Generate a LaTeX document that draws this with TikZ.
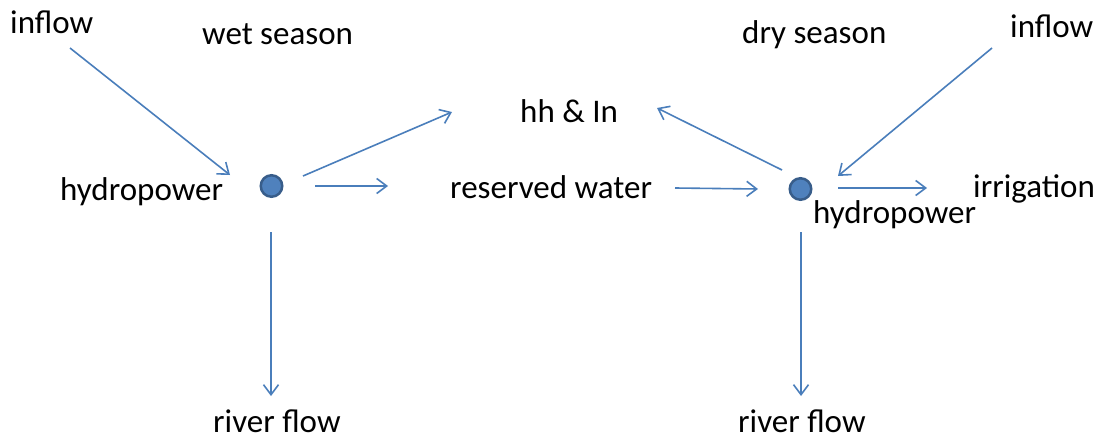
\documentclass[tikz,border=0pt]{standalone}
\usepackage{fontspec}
\setmainfont{Carlito}
\usetikzlibrary{arrows.meta}
\definecolor{arrowblue}{HTML}{4A7EBB}
\definecolor{dotfill}{HTML}{4F81BD}
\definecolor{dotdraw}{HTML}{385D8A}
\begin{document}
\begin{tikzpicture}[x=1pt,y=-1pt,
  lbl/.style={anchor=base west, inner sep=0pt, font=\fontsize{33}{40}\selectfont},
  arr/.style={draw=arrowblue, line width=1.6pt, -{Straight Barb[length=10pt,width=15pt,line width=1.6pt]}},
  dotnode/.style={circle, fill=dotfill, draw=dotdraw, line width=2.5pt, minimum size=21.5pt, inner sep=0pt}]
\useasboundingbox (0,0) rectangle (1101,439);
% labels
\node[lbl] (inflowL) at (10,33) {inflow};
\node[lbl] (wet) at (202,45) {wet season};
\node[lbl] (dry) at (742,43) {dry season};
\node[lbl] (inflowR) at (1010,37) {inflow};
\node[lbl] (hh) at (520,122) {hh \& In};
\node[lbl] (res) at (450,198) {reserved water};
\node[lbl] (hpL) at (60,200) {hydropower};
\node[lbl] (hpR) at (813,223) {hydropower};
\node[lbl] (irr) at (973,197) {irrigation};
\node[lbl] (rfL) at (213,432) {river flow};
\node[lbl] (rfR) at (738,432) {river flow};
% dots
\node[dotnode] (dotL) at (271.5,186) {};
\node[dotnode] (dotR) at (800.5,189) {};
% connector ends
\coordinate (a1s) at (70,48);   \coordinate (a1e) at (230,175);
\coordinate (a2s) at (303,176); \coordinate (a2e) at (452,112);
\coordinate (a3s) at (315,186); \coordinate (a3e) at (388,186);
\coordinate (a4s) at (675,188); \coordinate (a4e) at (758,189);
\coordinate (a5s) at (782,170); \coordinate (a5e) at (657,108);
\coordinate (a6s) at (992,48);  \coordinate (a6e) at (838,176);
\coordinate (a7s) at (838,188); \coordinate (a7e) at (927,188);
\coordinate (a8s) at (271,232); \coordinate (a8e) at (271,396);
\coordinate (a9s) at (801,232); \coordinate (a9e) at (801,396);
% connectors
\draw[arr] (a1s) -- (a1e);
\draw[arr] (a2s) -- (a2e);
\draw[arr] (a3s) -- (a3e);
\draw[arr] (a4s) -- (a4e);
\draw[arr] (a5s) -- (a5e);
\draw[arr] (a6s) -- (a6e);
\draw[arr] (a7s) -- (a7e);
\draw[arr] (a8s) -- (a8e);
\draw[arr] (a9s) -- (a9e);
\end{tikzpicture}
\end{document}
